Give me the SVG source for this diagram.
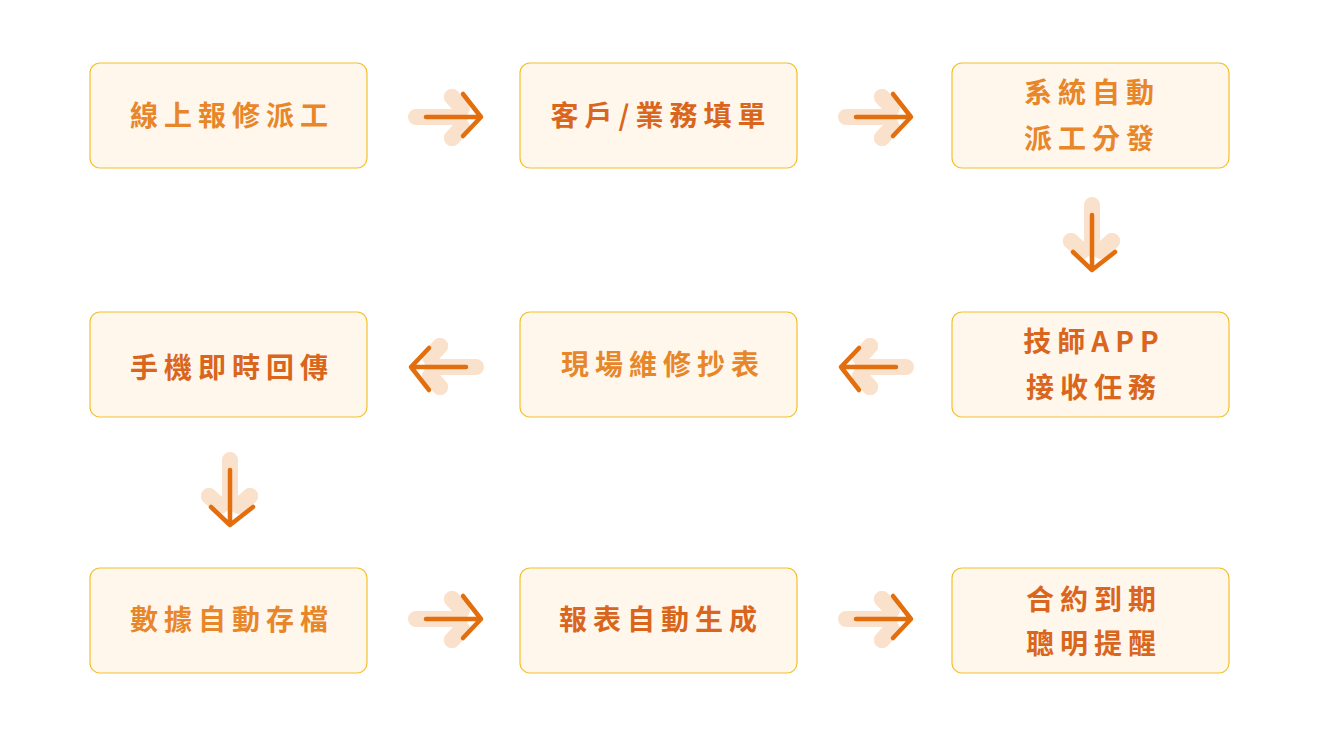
<svg xmlns="http://www.w3.org/2000/svg" width="1320" height="746" viewBox="0 0 1320 746">
<defs>
<style>
.box{fill:#fff7ec;stroke:#f3c02c;stroke-width:1.2}
.t{font-family:"Noto Sans CJK TC","Noto Sans",sans-serif;font-weight:700;font-size:28px;letter-spacing:6px;text-anchor:middle;fill:#e8862a}
.d{fill:#d9661c}
.sh{fill:none;stroke:#fae1cb;stroke-width:16;stroke-linecap:round;stroke-linejoin:round}
.ar{fill:none;stroke:#e36e0e;stroke-width:4.5;stroke-linecap:round;stroke-linejoin:round}
</style>
<g id="arR"><path class="sh" d="M416 117H460M452 97L452 97M452 138L452 138"/><path class="sh" d="M452 97L462 108M452 138L462 127"/><path class="ar" d="M426 117H481M463 94L481 117L463 136"/></g>
</defs>
<g id="connectors">
<use href="#arR"/>
<use href="#arR" transform="translate(430,0)"/>
<use href="#arR" transform="translate(0,502)"/>
<use href="#arR" transform="translate(430,502)"/>
<use href="#arR" transform="translate(892,484) rotate(180)"/>
<use href="#arR" transform="translate(1322,484) rotate(180)"/>
<use href="#arR" transform="translate(1209,-211) rotate(90)"/>
<use href="#arR" transform="translate(347,44) rotate(90)"/>
</g>
<g id="n1"><rect class="box" x="90" y="63" width="277" height="105" rx="10"/><text class="t" x="232" y="126">線上報修派工</text></g>
<g id="n2"><rect class="box" x="520" y="63" width="277" height="105" rx="10"/><text class="t d" x="661" y="126">客戶/業務填單</text></g>
<g id="n3"><rect class="box" x="952" y="63" width="277" height="105" rx="10"/><text class="t" x="1092" y="103">系統自動</text><text class="t" x="1092" y="149">派工分發</text></g>
<g id="n4"><rect class="box" x="952" y="312" width="277" height="105" rx="10"/><text class="t d" x="1094" y="352">技師APP</text><text class="t d" x="1094" y="398">接收任務</text></g>
<g id="n5"><rect class="box" x="520" y="312" width="277" height="105" rx="10"/><text class="t" x="663" y="375">現場維修抄表</text></g>
<g id="n6"><rect class="box" x="90" y="312" width="277" height="105" rx="10"/><text class="t d" x="232" y="378">手機即時回傳</text></g>
<g id="n7"><rect class="box" x="90" y="568" width="277" height="105" rx="10"/><text class="t" x="232" y="630">數據自動存檔</text></g>
<g id="n8"><rect class="box" x="520" y="568" width="277" height="105" rx="10"/><text class="t d" x="661" y="630">報表自動生成</text></g>
<g id="n9"><rect class="box" x="952" y="568" width="277" height="105" rx="10"/><text class="t d" x="1094" y="610">合約到期</text><text class="t d" x="1094" y="654">聰明提醒</text></g>
</svg>
